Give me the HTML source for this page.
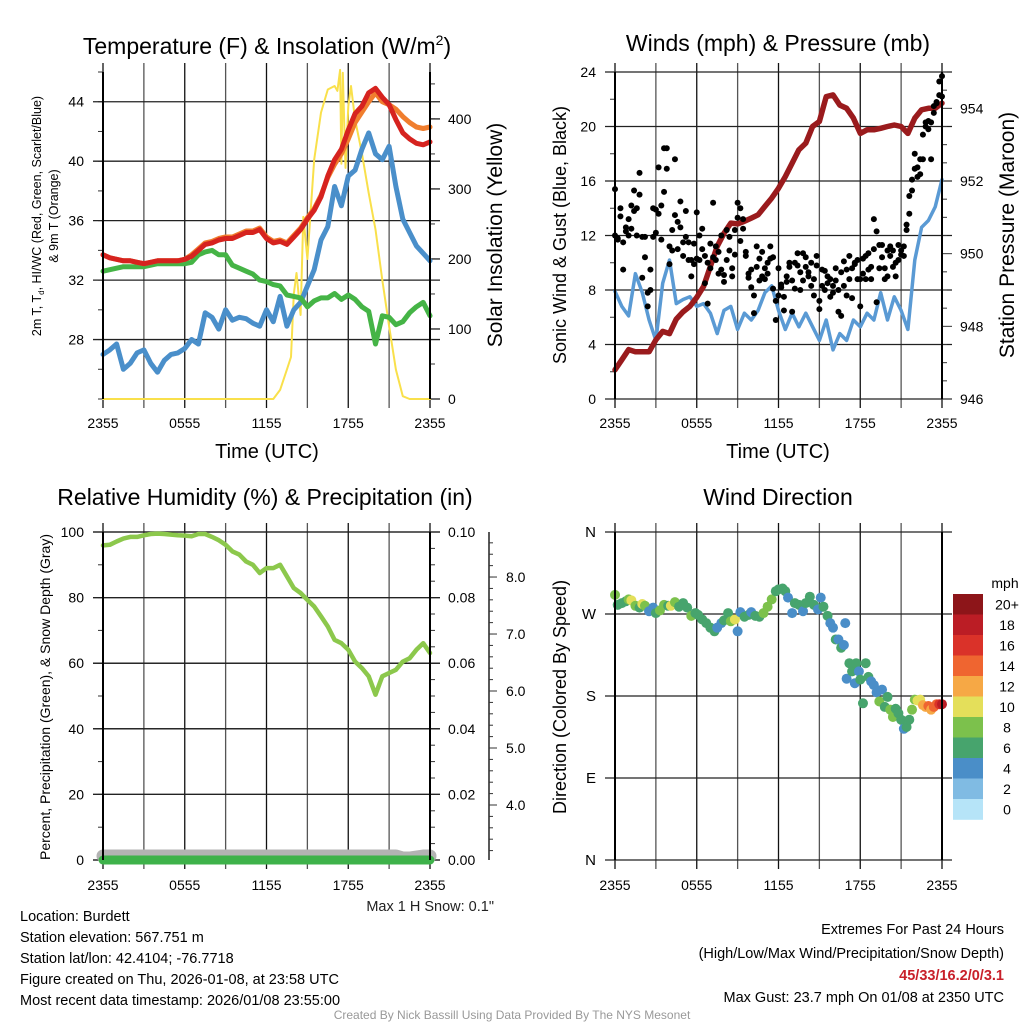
<!DOCTYPE html>
<html><head><meta charset="utf-8"><style>
html,body{margin:0;padding:0;background:#fff;width:1024px;height:1024px;overflow:hidden}
svg{display:block;font-family:"Liberation Sans",Arial,sans-serif}
</style></head><body>
<svg id="fig" width="1024" height="1024" viewBox="0 0 1024 1024" xmlns="http://www.w3.org/2000/svg">
<rect x="0" y="0" width="1024" height="1024" fill="#fff"/>
<text x="267" y="54" font-size="23" text-anchor="middle">Temperature (F) &amp; Insolation (W/m<tspan font-size="14" dy="-9">2</tspan><tspan dy="9">)</tspan></text>
<text x="778" y="51" font-size="23" text-anchor="middle">Winds (mph) &amp; Pressure (mb)</text>
<text x="265" y="505" font-size="23" text-anchor="middle">Relative Humidity (%) &amp; Precipitation (in)</text>
<text x="778" y="505" font-size="23" text-anchor="middle">Wind Direction</text>

<text x="267" y="458" font-size="20" text-anchor="middle">Time (UTC)</text>
<text x="778" y="458" font-size="20" text-anchor="middle">Time (UTC)</text>

<text transform="translate(41,216) rotate(-90)" font-size="12.5" text-anchor="middle">2m T, T<tspan font-size="8" dy="3">d</tspan><tspan dy="-3">, HI/WC (Red, Green, Scarlet/Blue)</tspan></text>
<text transform="translate(58,216) rotate(-90)" font-size="12.5" text-anchor="middle">&amp; 9m T (Orange)</text>
<text transform="translate(502,235) rotate(-90)" font-size="21" text-anchor="middle">Solar Insolation (Yellow)</text>
<text transform="translate(566,235) rotate(-90)" font-size="18" text-anchor="middle">Sonic Wind &amp; Gust (Blue, Black)</text>
<text transform="translate(1014,235) rotate(-90)" font-size="21" text-anchor="middle">Station Pressure (Maroon)</text>
<text transform="translate(50,697) rotate(-90)" font-size="14" text-anchor="middle">Percent, Precipitation (Green), &amp; Snow Depth (Gray)</text>
<text transform="translate(566,697) rotate(-90)" font-size="18" text-anchor="middle">Direction (Colored By Speed)</text>

<text x="494" y="911" font-size="14.5" text-anchor="end" fill="#222">Max 1 H Snow: 0.1"</text>
<g font-size="14.5" fill="#000">
<text x="20" y="921">Location: Burdett</text>
<text x="20" y="942">Station elevation: 567.751 m</text>
<text x="20" y="963">Station lat/lon: 42.4104; -76.7718</text>
<text x="20" y="984">Figure created on Thu, 2026-01-08, at 23:58 UTC</text>
<text x="20" y="1005">Most recent data timestamp: 2026/01/08 23:55:00</text>
</g>
<g font-size="14.5" text-anchor="end">
<text x="1004" y="934">Extremes For Past 24 Hours</text>
<text x="1004" y="958">(High/Low/Max Wind/Precipitation/Snow Depth)</text>
<text x="1004" y="980" fill="#c8202a" font-weight="bold">45/33/16.2/0/3.1</text>
<text x="1004" y="1002">Max Gust: 23.7 mph On 01/08 at 2350 UTC</text>
</g>
<text x="512" y="1019" font-size="12" fill="#999" text-anchor="middle">Created By Nick Bassill Using Data Provided By The NYS Mesonet</text>
</svg>
<script>
// ---------- data ----------
const hours = [0,0.5,1,1.5,2,2.5,3,3.5,4,4.5,5,5.5,6,6.5,7,7.5,8,8.5,9,9.5,10,10.5,11,11.5,12,12.5,13,13.5,14,14.5,15,15.5,16,16.5,17,17.5,18,18.5,19,19.5,20,20.5,21,21.5,22,22.5,23,23.5,24];
const xTickLabels = ["2355","0555","1155","1755","2355"];
const tempRed = [33.7,33.5,33.4,33.3,33.3,33.2,33.1,33.2,33.3,33.3,33.3,33.3,33.4,33.6,34.0,34.4,34.5,34.7,34.8,34.8,35.0,35.2,35.2,35.4,34.8,34.5,34.6,34.4,34.9,35.4,36.1,36.7,37.6,39.0,40.1,40.8,42.1,43.2,43.7,44.6,44.9,44.3,43.8,42.8,41.9,41.5,41.2,41.1,41.3];
const temp9m = [33.7,33.5,33.4,33.3,33.3,33.2,33.1,33.2,33.3,33.3,33.3,33.3,33.4,33.7,34.1,34.5,34.6,34.8,34.9,34.9,35.1,35.3,35.3,35.5,34.9,34.6,34.7,34.5,35.0,35.5,36.2,36.8,37.7,38.9,39.8,40.5,41.5,42.6,43.3,44.0,44.6,44.0,43.8,43.5,43.0,42.6,42.3,42.2,42.3];
const dewGreen = [32.6,32.7,32.8,32.9,32.9,32.9,32.9,33.0,33.1,33.1,33.1,33.1,33.1,33.2,33.7,33.9,34.0,33.7,33.7,33.0,32.8,32.6,32.4,32.0,31.9,31.7,31.6,31.0,30.9,30.8,30.2,30.6,30.8,30.8,31.1,30.7,31.0,30.7,30.2,29.9,27.7,29.6,29.5,29.0,29.2,29.8,30.2,30.5,29.6];
const chillBlue = [27.0,27.3,27.7,26.0,26.4,27.1,27.3,26.4,25.8,26.6,27.0,27.1,27.4,28.0,27.7,29.8,29.5,28.7,30.0,29.3,29.5,29.4,29.1,28.9,30.0,29.2,30.9,28.9,30.0,30.5,31.6,32.7,34.7,35.6,38.3,37.0,39.0,39.4,40.8,41.9,40.5,40.1,41.0,38.3,36.1,35.2,34.3,33.8,33.3];
const solarHours = [0,12.5,13,13.5,13.8,14,14.2,14.5,14.7,15,15.5,16,16.5,17,17.2,17.4,17.5,17.6,17.8,18,18.2,18.5,19,19.5,20,20.5,21,21.5,22,22.5,24];
const solarVals = [0,0,13,42,60,150,180,120,260,200,342,409,442,447,440,470,336,466,330,418,447,399,351,294,242,170,104,42,4,0,0];
const windBlue = [7.9,6.8,6.1,9.2,7.8,5.8,4.3,8.5,10.2,7.0,7.3,7.5,6.8,7.0,6.3,4.8,6.5,6.8,5.1,6.3,5.8,6.5,7.8,8.3,6.5,5.1,6.3,5.3,6.3,5.3,4.3,5.8,3.6,4.8,4.3,5.8,5.3,6.3,5.8,7.8,5.8,7.5,6.5,5.1,10.2,12.6,13.1,14.1,16.1];
const pressure = [946.8,947.08,947.36,947.3,947.3,947.3,947.63,947.86,947.8,948.2,948.4,948.55,948.8,949.1,949.65,950.2,950.56,950.84,950.82,950.89,950.98,951.07,951.3,951.53,951.8,952.12,952.49,952.86,953.04,953.5,953.64,954.32,954.37,954.09,954.0,953.73,953.31,953.41,953.41,953.45,953.5,953.54,953.5,953.31,953.73,953.96,954.0,954.0,954.14];
// gusts: two readings per 0.2-hour slot (0.0, 0.2, ... 24.0)
const gustA = [15.4,11.7,14,11.5,12.6,13.2,14.2,15.3,14,16.6, 11.9,10.4,7.8,9.5,11.9,13.9,13.6,11.7,15.2,18.4, 11.2,12.4,17.6,11,14.5,11.5,13.8,11.5,10.2,11.4, 10.3,12,12.5,10.5,7,11.4,10.4,11.2,9.2,12, 9.1,12.4,11.9,9,10.6,13.3,11.6,13.2,10.5,8.9, 9.5,7.6,9.7,8.7,10.8,8.8,10,10.3,8.1,7.2, 9.6,8.4,7.5,9,10,8.7,8.1,9.8,9.3,8.7, 10.4,9.3,8.3,7.6,10.5,6.6,9.5,8,9,7.5, 8.3,8.7,6.4,6.1,10.1,9.5,10.5,9.6,9.9,8.8, 8.8,10.3,8.8,9.5,8.8,13.2,7.1,11.3,11.3,9.6, 10.9,10.5,10.9,9,11.3,10.9,11.2,12.8,13.6,16.1, 16.9,16.3,17.6,19.4,20,20.4,17.6,21.5,21.8,23.3, 23.7];
const gustB = [12,11.8,13.4,9.5,12.3,12,12.5,13.8,12,15, 8.9,11.9,6.8,8,14,12.2,17,14.2,18.4,16.9, 9.9,10.9,13.5,13,12.6,10.5,11.9,10.2,9,9.9, 13.7,10.2,11,8.5,10,9.6,14.4,10.2,10.8,9.5, 8.6,10.2,10.9,9.6,12.4,14.4,14,12.5,10.8,9.2, 8.2,6.3,11.2,10.3,9,9.6,9.2,11.2,10.4,5.8, 7.6,8.2,6.5,8.6,9.7,6.4,10,10.7,8,10.7, 9.7,9,10,8.8,9.8,7.2,8.3,9.4,8.5,8.8, 7.8,9.6,8,9.3,8.3,7.6,8.8,7.4,10,10.2, 6.8,9.2,10.5,10.7,9.7,11,12.3,9.6,10.4,8.8, 9,11.2,9.7,10,10.2,10.6,10.5,12.4,14.9,15.3, 18,17,16.5,17.6,20.3,19.8,20.3,21,21.7,22.3, 22.2];
const rhVals = [95.9,96.1,97.1,98.0,98.5,98.5,99.0,99.4,99.5,99.4,99.2,99.0,98.9,98.7,99.4,99.4,98.5,97.5,96.1,94.1,93.1,91.0,90.0,87.5,89.0,89.0,90.0,86.5,82.9,81.4,79.3,77.3,74.3,71.2,67.1,66.1,64.1,60.5,58.5,56.0,50.4,56.0,57.0,58.0,60.5,61.5,64.1,66.1,63.1];
const precipVals = [0,0,0,0,0,0,0,0,0,0,0,0,0,0,0,0,0,0,0,0,0,0,0,0,0,0,0,0,0,0,0,0,0,0,0,0,0,0,0,0,0,0,0,0,0,0,0,0,0];
const snowVals = [3.1,3.1,3.1,3.1,3.1,3.1,3.1,3.1,3.1,3.1,3.1,3.1,3.1,3.1,3.1,3.1,3.1,3.1,3.1,3.1,3.1,3.1,3.1,3.1,3.1,3.1,3.1,3.1,3.1,3.1,3.1,3.1,3.1,3.1,3.1,3.1,3.1,3.1,3.1,3.1,3.1,3.1,3.1,3.1,3.0,3.0,3.05,3.1,3.1];
const dirHours = [0,0.2,0.5,0.8,1,1.2,1.5,1.8,2,2.2,2.5,2.8,3,3.3,3.6,3.9,4.1,4.4,4.7,5,5.3,5.6,5.9,6.1,6.4,6.7,7,7.3,7.5,7.8,8,8.3,8.5,8.8,9,9.2,9.5,9.8,10,10.3,10.6,10.9,11.2,11.5,11.8,12,12.3,12.5,12.7,13,13.2,13.5,13.8,14,14.3,14.6,14.9,15.1,15.3,15.6,15.8,16,16.2,16.4,16.6,16.8,16.9,17,17.2,17.4,17.6,17.7,17.9,18,18.2,18.4,18.6,18.8,19,19.2,19.4,19.6,19.8,20,20.2,20.4,20.6,20.8,21,21.2,21.4,21.6,21.8,22,22.2,22.4,22.6,22.8,23,23.2,23.4,23.6,23.8,24];
const dirVals = [291,280,282,284,286,285,279,277,281,279,273,277,271,274,280,279,279,283,278,282,277,268,271,269,264,260,255,251,255,260,263,271,262,264,251,272,267,269,272,268,267,271,278,286,295,297,298,295,288,271,282,280,273,282,289,280,275,288,278,268,260,255,242,242,233,236,260,199,216,207,194,216,207,198,172,216,201,196,192,184,174,187,168,179,165,157,166,161,154,144,146,154,165,176,175,176,170,168,169,165,168,171,171,171];
const dirSpeed = [8,6,6,7,8,10,8,6,10,8,4,4,6,8,8,7,10,8,6,6,6,8,6,6,6,6,6,6,4,4,6,6,8,10,4,4,6,6,4,6,6,8,8,8,6,6,6,6,4,4,6,6,4,6,6,6,4,4,6,6,4,4,6,4,6,4,4,4,6,6,4,6,4,6,6,6,6,4,4,4,8,4,6,6,8,8,6,6,6,4,6,6,8,8,10,10,12,12,14,12,14,14,16,18];
const speedBinLabels = ["20+","18","16","14","12","10","8","6","4","2","0"];
const speedColors = ["#b6e4f8","#80bbe3","#4a8ec8","#47a46d","#7cc14c","#e4df5a","#f6a845","#ef6530","#da3229","#bb1d25","#8d1519"];

// ---------- helpers ----------
const NS = "http://www.w3.org/2000/svg";
const svg = document.getElementById("fig");
function mk(tag, attrs, parent) {
  const el = document.createElementNS(NS, tag);
  for (const k in attrs) el.setAttribute(k, attrs[k]);
  (parent || svg).appendChild(el);
  return el;
}
function scale(d0, d1, r0, r1) { return v => r0 + (v - d0) * (r1 - r0) / (d1 - d0); }

const panels = {
  temp: {x0:103, x1:430, y0:72, y1:399},
  wind: {x0:615, x1:942, y0:72, y1:399},
  rh:   {x0:103, x1:430, y0:532, y1:860},
  dir:  {x0:615, x1:942, y0:532, y1:860}
};

function drawFrame(p, name, xlabY) {
  const g = mk("g", {});
  
  
  const xs = scale(0, 24, p.x0, p.x1);
  for (let h = 0; h <= 24; h += 3) {
    const x = xs(h);
    const gl = mk("line", {x1:x, x2:x, y1:p.y0 - 9, y2:p.y1 + 9, stroke:(h%6===0)?"#111":"#555", "stroke-width":1.3}, g);
    
    
  }
  for (let i = 0; i < xTickLabels.length; i++) {
    const t = mk("text", {x:xs(i*6), y:xlabY, "font-size":14, "text-anchor":"middle"}, g);
    t.textContent = xTickLabels[i];
    
    
  }
  return {g, xs};
}
function yAxis(p, g, d0, d1, majors, labels, minorStep, side, labX, fs, grid) {
  const ys = scale(d0, d1, p.y1, p.y0);
  const ax = side === "left" ? p.x0 : p.x1;
  const dir = side === "left" ? -1 : 1;
  for (let v = Math.ceil(d0 / minorStep) * minorStep; v <= d1 + 1e-9; v += minorStep) {
    const y = ys(v);
    mk("line", {x1:ax, x2:ax + dir*5, y1:y, y2:y, stroke:"#333", "stroke-width":1}, g);
  }
  majors.forEach((v, i) => {
    const y = ys(v);
    if (grid !== false) {
      const gl = mk("line", {x1:p.x0 - 10, x2:p.x1 + 10, y1:y, y2:y, stroke:"#222", "stroke-width":1.3}, g);
      
      
    } else {
      mk("line", {x1:ax, x2:ax + dir*10, y1:y, y2:y, stroke:"#222", "stroke-width":1.3}, g);
    }
    const t = mk("text", {x:labX, y:y + 5, "font-size":fs || 14, "text-anchor":side === "left" ? "end" : "start"}, g);
    t.textContent = labels[i];
    
    
  });
  return ys;
}
function line(g, xs, ys, hx, vals, color, w, name) {
  const pts = hx.map((h, i) => xs(h).toFixed(1) + "," + ys(vals[i]).toFixed(1)).join(" ");
  const pl = mk("polyline", {points:pts, fill:"none", stroke:color, "stroke-width":w, "stroke-linejoin":"round", "stroke-linecap":"round"}, g);
  
  
  return pl;
}
function border(p, g) {
  mk("line", {x1:p.x0, x2:p.x0, y1:p.y0, y2:p.y1, stroke:"#000", "stroke-width":2}, g);
  mk("line", {x1:p.x1, x2:p.x1, y1:p.y0, y2:p.y1, stroke:"#000", "stroke-width":2}, g);
}

// ---------- panel 1 ----------
{
  const p = panels.temp;
  const {g, xs} = drawFrame(p, "temperature", 428);
  const ysL = yAxis(p, g, 24, 46, [28,32,36,40,44], ["28","32","36","40","44"], 2, "left", 84);
  const ysR = yAxis(p, g, 0, 467, [0,100,200,300,400], ["0","100","200","300","400"], 50, "right", 448, 14, false);
  line(g, xs, ysR, solarHours, solarVals, "#f9e04b", 2, "solar-insolation-line");
  line(g, xs, ysL, hours, chillBlue, "#4a8fca", 5, "wind-chill-line");
  line(g, xs, ysL, hours, dewGreen, "#45b446", 5, "dewpoint-line");
  line(g, xs, ysL, hours, temp9m, "#f07e2e", 5, "temp-9m-line");
  line(g, xs, ysL, hours, tempRed, "#d6231f", 5, "temp-2m-line");
  border(p, g);
}
// ---------- panel 2 ----------
{
  const p = panels.wind;
  const {g, xs} = drawFrame(p, "winds", 428);
  const ysL = yAxis(p, g, 0, 24, [0,4,8,12,16,20,24], ["0","4","8","12","16","20","24"], 2, "left", 596);
  const ysR = scale(946, 955, p.y1, p.y0);
  for (let v = 946; v <= 955; v += 0.5) {
    mk("line", {x1:p.x1, x2:p.x1 + (v % 2 === 0 ? 10 : 5), y1:ysR(v), y2:ysR(v), stroke:"#333", "stroke-width":1}, g);
  }
  [946,948,950,952,954].forEach(v => {
    const t = mk("text", {x:960, y:ysR(v) + 5, "font-size":14}, g);
    t.textContent = String(v);
    
    
  });
  line(g, xs, ysL, hours, windBlue, "#5a9ad4", 3.5, "sonic-wind-line");
  line(g, xs, ysR, hours, pressure, "#9a1b1d", 5.5, "station-pressure-line");
  [gustA, gustB].forEach(arr => {
    arr.forEach((v, i) => {
      if (v === undefined) return;
      const c = mk("circle", {cx:xs(i * 0.2), cy:ysL(v), r:3, fill:"#000"}, g);
      
      
    });
  });
  border(p, g);
}
// ---------- panel 3 ----------
{
  const p = panels.rh;
  const {g, xs} = drawFrame(p, "humidity", 890);
  const ysL = yAxis(p, g, 0, 100, [0,20,40,60,80,100], ["0","20","40","60","80","100"], 10, "left", 84);
  const ysR = yAxis(p, g, 0, 0.1, [0,0.02,0.04,0.06,0.08,0.1], ["0.00","0.02","0.04","0.06","0.08","0.10"], 0.005, "right", 448);
  const ysS = scale(3.035, 8.79, p.y1, p.y0);
  const sx = 489;
  const ax = mk("line", {x1:sx, x2:sx, y1:p.y0, y2:p.y1, stroke:"#222", "stroke-width":1.5}, g);
  
  
  for (let v = 3.2; v <= 8.7; v += 0.2) {
    mk("line", {x1:sx, x2:sx + 4, y1:ysS(v), y2:ysS(v), stroke:"#333", "stroke-width":1}, g);
  }
  [4,5,6,7,8].forEach(v => {
    mk("line", {x1:sx, x2:sx + 8, y1:ysS(v), y2:ysS(v), stroke:"#333", "stroke-width":1}, g);
    const t = mk("text", {x:506, y:ysS(v) + 5, "font-size":14}, g);
    t.textContent = v.toFixed(1);
    
    
  });
  const ysSnow = v => p.y1 - 2 - (v - 3.0) * 20;
  line(g, xs, ysSnow, hours, snowVals, "#b3b3b3", 13, "snow-depth-line");
  line(g, xs, ysR, hours, precipVals, "#3eb24a", 9, "precipitation-line");
  line(g, xs, ysL, hours, rhVals, "#8cc84c", 4.5, "relative-humidity-line");
  border(p, g);
}
// ---------- panel 4 ----------
{
  const p = panels.dir;
  const {g, xs} = drawFrame(p, "wind-direction", 890);
  yAxis(p, g, 0, 360, [0,90,180,270,360], ["N","E","S","W","N"], 1000, "left", 596, 15);
  const ys = scale(0, 360, p.y1, p.y0);
  dirHours.forEach((h, i) => {
    const idx = Math.max(0, Math.min(10, Math.floor(dirSpeed[i] / 2)));
    const c = mk("circle", {cx:xs(h), cy:ys(dirVals[i]), r:5, fill:speedColors[idx]}, g);
    
    
  });
  border(p, g);
  const cb = mk("g", {});
  
  
  const top = 594, bh = 20.5;
  const mt = mk("text", {x:1005, y:588, "font-size":14, "text-anchor":"middle"}, cb);
  mt.textContent = "mph";
  
  
  speedBinLabels.forEach((lab, i) => {
    const r = mk("rect", {x:953, y:top + i*bh, width:30, height:bh + 0.3, fill:speedColors[10 - i]}, cb);
    
    
    const t = mk("text", {x:1007, y:top + i*bh + bh/2 + 5, "font-size":14, "text-anchor":"middle"}, cb);
    t.textContent = lab;
    
    
  });
}
</script>
</body></html>
